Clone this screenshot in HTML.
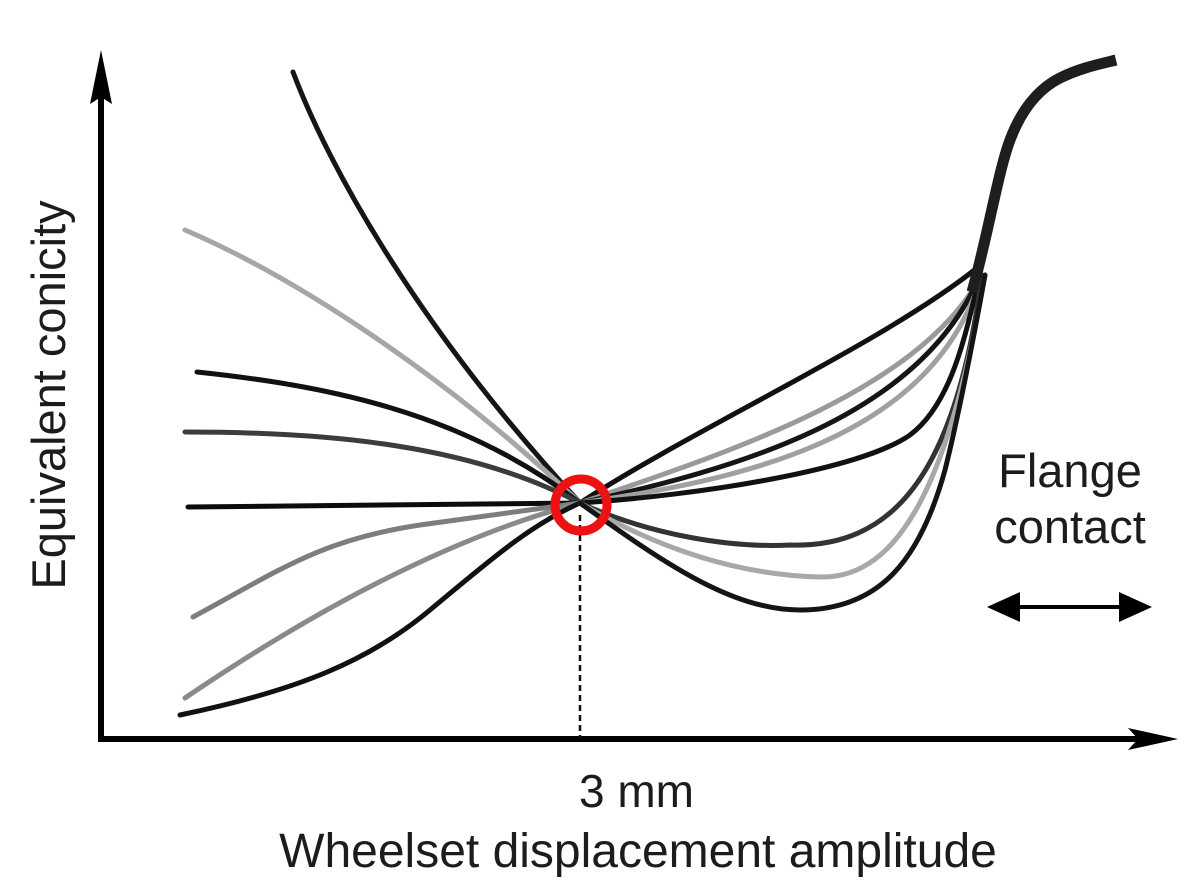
<!DOCTYPE html>
<html>
<head>
<meta charset="utf-8">
<style>
  html,body{margin:0;padding:0;background:#fff;}
  svg{display:block;}
  text{font-family:"Liberation Sans", Arial, sans-serif; fill:#1c1c1c;}
</style>
</head>
<body>
<svg width="1200" height="895" viewBox="0 0 1200 895" xmlns="http://www.w3.org/2000/svg">
  <rect width="1200" height="895" fill="#fff"/>

  <!-- Axes -->
  <line x1="101" y1="742" x2="101" y2="95" stroke="#000" stroke-width="6"/>
  <path d="M101,50 L112,104 L101,97 L90,104 Z" fill="#000"/>
  <line x1="98" y1="739" x2="1145" y2="739" stroke="#000" stroke-width="6"/>
  <path d="M1178,739 L1128,728 L1138,739 L1128,750 Z" fill="#000"/>

  <!-- dashed line -->
  <line x1="580" y1="515" x2="580" y2="738" stroke="#111" stroke-width="2.5" stroke-dasharray="6,4"/>

  <g fill="none" stroke-linecap="round" stroke-linejoin="round" stroke-width="5">
    <!-- Left side curves -->
    <path d="M293,72 C330,170 420,330 580,503" stroke="#151515"/>
    <path d="M185,230 C290,275 440,370 580,503" stroke="#a6a6a6"/>
    <path d="M197,372 C320,385 460,410 580,503" stroke="#111"/>
    <path d="M185,432 C330,432 470,445 580,503" stroke="#3c3c3c"/>
    <path d="M188,507 L580,503" stroke="#0c0c0c"/>
    <path d="M193,617 C280,570 320,540 420,525 C490,515 540,508 580,503" stroke="#7d7d7d"/>
    <path d="M185,698 C300,620 440,540 580,503" stroke="#8a8a8a"/>
    <path d="M180,715 C300,690 370,660 430,610 C490,560 530,525 580,503" stroke="#111"/>

    <!-- Right side upper group -->
    <path d="M580,503 C700,425 880,345 977,268" stroke="#111"/>
    <path d="M580,503 C720,455 910,395 977,283" stroke="#9a9a9a"/>
    <path d="M580,503 C730,470 920,420 980,275" stroke="#151515"/>
    <path d="M580,503 C740,480 930,440 980,280" stroke="#a0a0a0"/>
    <path d="M580,503 C700,495 860,470 910,435 C950,405 965,340 980,273" stroke="#111"/>

    <!-- Right side lower group -->
    <path d="M580,503 C650,535 730,548 790,545 C890,548 955,480 982,275" stroke="#333"/>
    <path d="M580,503 C660,550 740,575 820,577 C900,579 950,480 985,275" stroke="#a8a8a8"/>
    <path d="M580,503 C660,560 730,610 800,610 C880,610 920,560 945,470 C960,410 975,330 985,275" stroke="#141414"/>
  </g>

  <!-- Flange thick curve -->
  <path d="M972,292 C988,235 998,172 1010,140 C1022,108 1040,88 1060,78 C1080,68 1100,64 1116,60"
        fill="none" stroke="#1e1e1e" stroke-width="11" stroke-linecap="butt" stroke-linejoin="round"/>

  <!-- Red circle -->
  <circle cx="581" cy="505" r="26" fill="none" stroke="#ee1111" stroke-width="9"/>

  <!-- Double arrow -->
  <line x1="1010" y1="607" x2="1130" y2="607" stroke="#000" stroke-width="4"/>
  <path d="M987,607 L1020,592 L1020,622 Z" fill="#000"/>
  <path d="M1152,607 L1119,592 L1119,622 Z" fill="#000"/>

  <!-- Labels -->
  <text x="1070" y="487" font-size="47" text-anchor="middle">Flange</text>
  <text x="1070" y="543" font-size="47" text-anchor="middle">contact</text>
  <text x="579" y="807" font-size="46">3 mm</text>
  <text x="638" y="867" font-size="48" text-anchor="middle">Wheelset displacement amplitude</text>
  <text transform="translate(65,395) rotate(-90)" font-size="47" text-anchor="middle">Equivalent conicity</text>
</svg>
</body>
</html>
